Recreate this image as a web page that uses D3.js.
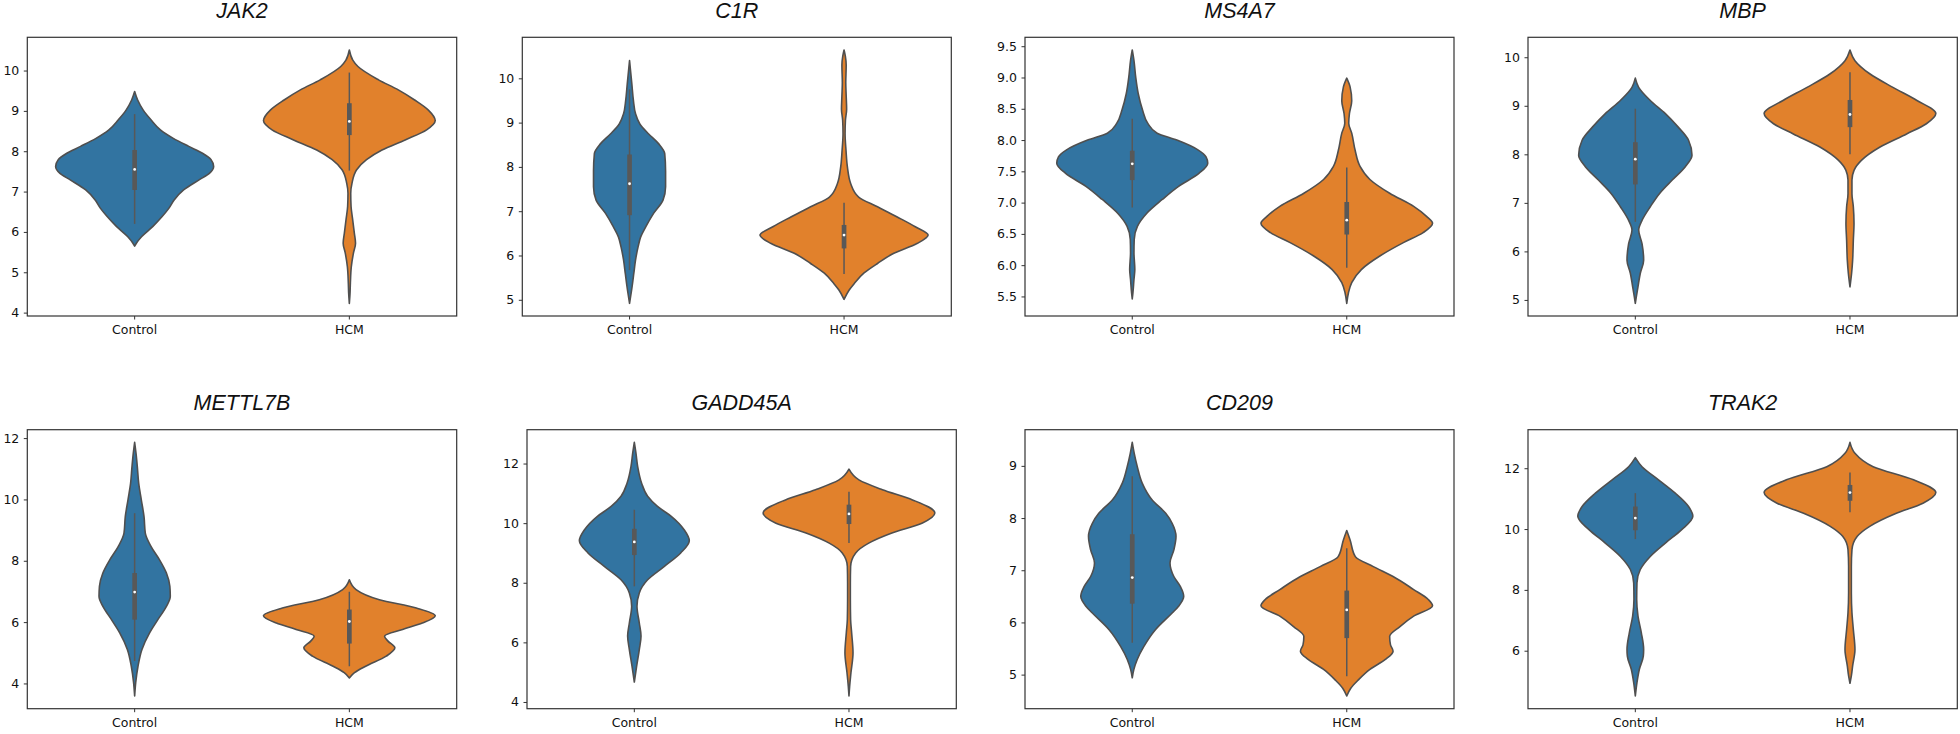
<!DOCTYPE html>
<html><head><meta charset="utf-8">
<script src="https://cdn.jsdelivr.net/npm/d3@7"></script>
<style>
html,body{margin:0;padding:0;background:#fff;}
svg{display:block;}
</style></head>
<body>
<script>
// ---------- data ----------
const genes = ["JAK2","C1R","MS4A7","MBP","METTL7B","GADD45A","CD209","TRAK2"];
const groups = ["Control","HCM"];
const yTickValues = [
  [4,5,6,7,8,9,10],
  [5,6,7,8,9,10],
  [5.5,6.0,6.5,7.0,7.5,8.0,8.5,9.0,9.5],
  [5,6,7,8,9,10],
  [4,6,8,10,12],
  [4,6,8,10,12],
  [5,6,7,8,9],
  [6,8,10,12]
];
const yTickDecimals = [0,0,1,0,0,0,0,0];

// density profiles: [expression value, relative half-width (1 = widest violin in panel)]
const controlDensity = [
  [[5.65,0],[5.72,0.02],[5.88,0.08],[6.13,0.21],[6.38,0.32],[6.59,0.40],[6.79,0.46],[7.04,0.57],[7.29,0.75],[7.45,0.87],[7.62,0.92],[7.79,0.89],[7.95,0.79],[8.12,0.63],[8.32,0.45],[8.53,0.30],[8.78,0.19],[9.02,0.10],[9.27,0.035],[9.48,0]],
  [[4.92,0],[5.30,0.03],[5.60,0.05],[5.90,0.07],[6.20,0.10],[6.42,0.13],[6.65,0.19],[6.95,0.28],[7.25,0.39],[7.55,0.42],[7.90,0.42],[8.30,0.41],[8.52,0.34],[8.75,0.22],[8.97,0.12],[9.20,0.07],[9.50,0.045],[9.87,0.027],[10.40,0]],
  [[5.46,0],[5.56,0.008],[5.77,0.02],[5.93,0.03],[6.20,0.02],[6.41,0.023],[6.62,0.06],[6.83,0.17],[7.05,0.35],[7.26,0.54],[7.47,0.78],[7.63,0.88],[7.73,0.86],[7.84,0.77],[8.00,0.52],[8.11,0.29],[8.27,0.18],[8.48,0.12],[8.74,0.07],[9.01,0.04],[9.27,0.02],[9.44,0]],
  [[4.93,0],[5.07,0.012],[5.27,0.031],[5.55,0.058],[5.82,0.097],[6.16,0.078],[6.44,0.039],[6.64,0.078],[6.92,0.174],[7.21,0.29],[7.47,0.43],[7.74,0.58],[7.98,0.66],[8.29,0.62],[8.56,0.50],[8.84,0.35],[9.11,0.174],[9.38,0.039],[9.57,0]],
  [[3.59,0],[4.02,0.012],[4.56,0.039],[5.11,0.085],[5.65,0.174],[6.08,0.27],[6.51,0.37],[6.84,0.415],[7.17,0.41],[7.60,0.37],[8.03,0.29],[8.47,0.19],[8.90,0.124],[9.44,0.109],[9.98,0.078],[10.53,0.047],[11.07,0.031],[11.50,0.016],[11.86,0]],
  [[4.67,0],[5.20,0.027],[5.76,0.058],[6.21,0.078],[6.65,0.058],[7.21,0.031],[7.66,0.058],[8.10,0.155],[8.55,0.35],[9.00,0.54],[9.41,0.64],[9.78,0.58],[10.23,0.43],[10.56,0.27],[10.90,0.155],[11.34,0.085],[11.90,0.039],[12.35,0.019],[12.71,0]],
  [[4.94,0],[5.10,0.019],[5.29,0.058],[5.54,0.136],[5.86,0.27],[6.18,0.465],[6.31,0.54],[6.50,0.60],[6.69,0.56],[6.88,0.485],[7.14,0.44],[7.39,0.485],[7.65,0.51],[7.90,0.465],[8.09,0.39],[8.35,0.23],[8.67,0.116],[8.99,0.058],[9.24,0.023],[9.45,0]],
  [[4.51,0],[4.95,0.019],[5.39,0.047],[5.82,0.093],[6.04,0.097],[6.59,0.07],[7.14,0.031],[7.68,0.016],[8.23,0.019],[8.67,0.058],[9.10,0.174],[9.54,0.35],[9.98,0.54],[10.42,0.67],[10.74,0.62],[11.18,0.465],[11.62,0.27],[12.05,0.078],[12.35,0]]
];
const hcmDensity = [
  [[4.23,0],[4.48,0.008],[4.73,0.012],[5.14,0.023],[5.47,0.047],[5.72,0.072],[5.97,0.058],[6.30,0.039],[6.63,0.02],[6.96,0.016],[7.21,0.031],[7.54,0.085],[7.79,0.20],[8.03,0.38],[8.28,0.65],[8.53,0.90],[8.76,1.0],[9.02,0.92],[9.27,0.76],[9.52,0.57],[9.77,0.34],[10.10,0.10],[10.26,0.04],[10.51,0]],
  [[5.01,0],[5.22,0.06],[5.37,0.12],[5.60,0.23],[5.82,0.39],[6.05,0.58],[6.27,0.85],[6.46,0.98],[6.65,0.83],[6.87,0.62],[7.10,0.39],[7.32,0.17],[7.62,0.078],[8.00,0.039],[8.37,0.023],[8.75,0.012],[9.05,0.016],[9.30,0.03],[9.60,0.025],[9.90,0.02],[10.30,0.025],[10.50,0.015],[10.64,0]],
  [[5.39,0],[5.56,0.02],[5.72,0.058],[5.93,0.17],[6.15,0.39],[6.36,0.66],[6.52,0.89],[6.67,1.0],[6.78,0.93],[6.94,0.78],[7.15,0.50],[7.37,0.27],[7.58,0.155],[7.84,0.097],[8.11,0.058],[8.27,0.023],[8.42,0.031],[8.63,0.058],[8.85,0.039],[8.99,0]],
  [[5.27,0],[5.55,0.019],[5.82,0.031],[6.23,0.039],[6.58,0.047],[6.92,0.039],[7.19,0.023],[7.47,0.023],[7.67,0.047],[7.88,0.136],[8.15,0.35],[8.42,0.66],[8.63,0.89],[8.84,1.0],[9.11,0.78],[9.38,0.50],[9.66,0.23],[9.93,0.058],[10.15,0]],
  [[4.18,0],[4.35,0.06],[4.56,0.19],[4.89,0.43],[5.16,0.53],[5.38,0.45],[5.54,0.41],[5.76,0.62],[5.97,0.85],[6.21,1.0],[6.46,0.78],[6.73,0.35],[7.06,0.078],[7.38,0]],
  [[4.20,0],[4.53,0.008],[4.98,0.023],[5.65,0.047],[6.32,0.031],[6.77,0.019],[7.44,0.016],[7.99,0.016],[8.55,0.019],[9.00,0.078],[9.33,0.23],[9.67,0.50],[10.00,0.85],[10.34,1.0],[10.78,0.74],[11.12,0.39],[11.45,0.116],[11.81,0]],
  [[4.59,0],[4.74,0.047],[4.90,0.136],[5.10,0.27],[5.29,0.45],[5.45,0.54],[5.57,0.51],[5.73,0.50],[5.92,0.62],[6.12,0.78],[6.32,1.0],[6.44,0.95],[6.63,0.78],[6.88,0.54],[7.07,0.31],[7.26,0.10],[7.58,0.039],[7.76,0]],
  [[4.93,0],[5.17,0.016],[5.50,0.031],[6.04,0.058],[6.70,0.039],[7.25,0.023],[7.90,0.016],[8.78,0.016],[9.32,0.023],[9.76,0.085],[10.09,0.23],[10.52,0.54],[10.85,0.85],[11.20,1.0],[11.62,0.74],[12.05,0.27],[12.49,0.058],[12.85,0]]
];
// box stats: [lower whisker, Q1, median, Q3, upper whisker]
const controlBox = [
  [6.20,7.04,7.55,8.03,8.92],
  [5.67,6.91,7.62,8.28,9.75],
  [6.92,7.36,7.62,7.83,8.34],
  [6.61,7.38,7.90,8.25,8.94],
  [4.73,6.08,6.98,7.60,9.55],
  [7.88,8.93,9.37,9.81,10.45],
  [5.61,6.36,6.86,7.69,8.80],
  [9.67,9.96,10.36,10.74,11.18]
];
const hcmBox = [
  [7.52,8.40,8.74,9.19,9.95],
  [5.58,6.16,6.46,6.69,7.19],
  [5.96,6.49,6.72,7.01,7.56],
  [8.00,8.56,8.82,9.12,9.69],
  [4.56,5.30,6.02,6.41,6.99],
  [9.33,9.97,10.31,10.62,11.05],
  [4.97,5.70,6.24,6.61,7.42],
  [10.55,10.93,11.20,11.45,11.86]
];

// ---------- layout (pixel boxes of each axes) ----------
const panelBoxes = [
  [27.3,37.3,456.7,316],[522.3,37.3,951.3,316],[1025,37.3,1454,316],[1528,37.3,1957.3,316],
  [27.3,429.7,456.7,708.7],[527,429.7,956.3,708.7],[1025,429.7,1454,708.7],[1528,429.7,1957.3,708.7]
];
const fills = {Control:"#3274a1", HCM:"#e1812c"};
const outline = "#4f4f4f";
const boxGray = "#585858";

const svg = d3.select("body").append("svg").attr("width",1960).attr("height",734)
  .style("background","#fff");

genes.forEach((gene,i)=>{
  const [x0,y0,x1,y1] = panelBoxes[i];
  const dens = [controlDensity[i], hcmDensity[i]];
  const boxes = [controlBox[i], hcmBox[i]];
  const allV = dens.flat().map(d=>d[0]);
  const lo = d3.min(allV), hi = d3.max(allV), pad = (hi-lo)*0.05;
  const y = d3.scaleLinear().domain([lo-pad, hi+pad]).range([y1,y0]);
  const x = d3.scaleBand().domain(groups).range([x0,x1]).paddingInner(0.2).paddingOuter(0.1);
  const w = d3.scaleLinear().domain([0,1]).range([0, x.bandwidth()/2]);
  const g = svg.append("g");

  groups.forEach((grp,k)=>{
    const cx = x(grp) + x.bandwidth()/2;
    const pts = dens[k].slice().sort((a,b)=>b[0]-a[0]); // top to bottom (pixel y increasing)
    const area = d3.area().curve(d3.curveMonotoneY)
      .y(d=>y(d[0])).x0(d=>cx - w(d[1])).x1(d=>cx + w(d[1]));
    g.append("path").attr("d", area(pts))
      .attr("fill", fills[grp]).attr("stroke", outline).attr("stroke-width",1.6)
      .attr("stroke-linejoin","round");
    const b = boxes[k];
    g.append("line").attr("x1",cx).attr("x2",cx).attr("y1",y(b[0])).attr("y2",y(b[4]))
      .attr("stroke",boxGray).attr("stroke-width",1.5);
    g.append("line").attr("x1",cx).attr("x2",cx).attr("y1",y(b[1])).attr("y2",y(b[3]))
      .attr("stroke",boxGray).attr("stroke-width",4.7);
    g.append("circle").attr("cx",cx).attr("cy",y(b[2])).attr("r",1.4).attr("fill","#fff");
  });

  // frame
  g.append("rect").attr("x",x0).attr("y",y0).attr("width",x1-x0).attr("height",y1-y0)
    .attr("fill","none").attr("stroke","#333").attr("stroke-width",1.2);

  const fmt = d3.format(yTickDecimals[i] ? ".1f" : "d");
  const ya = g.append("g").attr("transform",`translate(${x0},0)`)
    .call(d3.axisLeft(y).tickValues(yTickValues[i]).tickFormat(fmt).tickSize(3.5).tickPadding(4.5));
  const xa = g.append("g").attr("transform",`translate(0,${y1})`)
    .call(d3.axisBottom(x).tickSize(3.5).tickPadding(5.5));
  [ya,xa].forEach(a=>{
    a.select(".domain").remove();
    a.selectAll("line").attr("stroke","#333").attr("stroke-width",1);
    a.selectAll("text").attr("fill","#111").style("font-family","'DejaVu Sans', sans-serif").style("font-size","12.5px");
  });

  g.append("text").attr("x",(x0+x1)/2).attr("y",y0-19.5).attr("text-anchor","middle")
    .style("font-family","'Liberation Sans', Arial, sans-serif").style("font-style","italic")
    .style("font-size","21.5px").attr("fill","#111").text(gene);
});
</script>
</body></html>
